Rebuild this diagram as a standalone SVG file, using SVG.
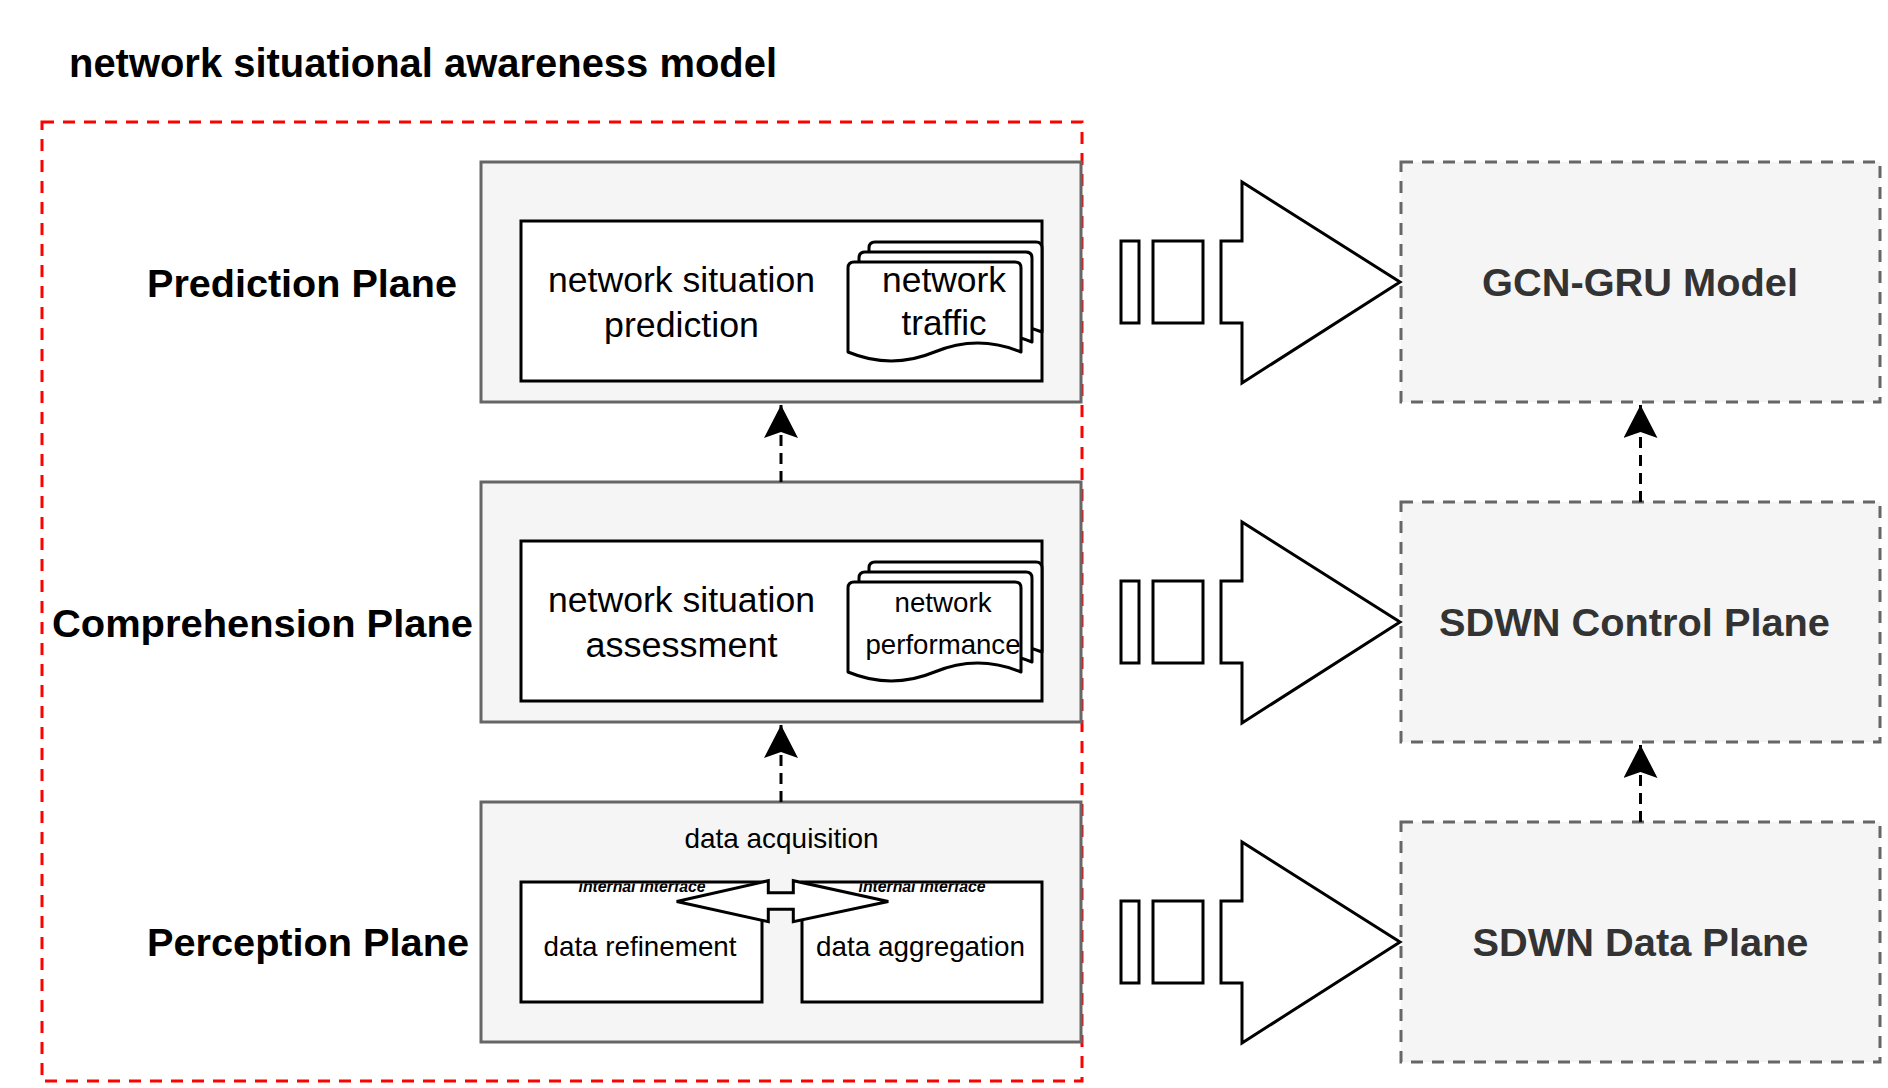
<svg xmlns="http://www.w3.org/2000/svg" width="1888" height="1088" viewBox="0 0 1888 1088">
<defs>
<style>
text{font-family:"Liberation Sans",Arial,Helvetica,sans-serif;fill:#000;}
.b{font-weight:bold;}
.lbl{font-weight:bold;font-size:39.5px;}
.ext-t{font-weight:bold;font-size:39.5px;fill:#333;}
.plane{fill:#f5f5f5;stroke:#666;stroke-width:3;}
.inner{fill:#fff;stroke:#000;stroke-width:3;}
.ext{fill:#f5f5f5;stroke:#666;stroke-width:3;stroke-dasharray:12 9;}
.frame{fill:none;stroke:#ff0000;stroke-width:3;stroke-dasharray:12 9;}
.doc{fill:#fff;stroke:#000;stroke-width:3;stroke-linejoin:round;}
.big{fill:#fff;stroke:#000;stroke-width:3;}
.conn{fill:none;stroke:#000;stroke-width:3;stroke-dasharray:11 7;}
.ii{font-size:16px;font-weight:bold;font-style:italic;}
</style>
<marker id="head" viewBox="0 0 34 34" refX="33" refY="17" markerWidth="34" markerHeight="34" markerUnits="userSpaceOnUse" orient="auto">
<path d="M0,0 L33,17 L0,34 L6,17 Z" fill="#000" stroke="none"/>
</marker>
<clipPath id="iiclip"><rect x="0" y="883.5" width="1888" height="30"/></clipPath>
<g id="docstack">
<path class="doc" d="M869,332 L869,248 Q869,242 875,242 L1036,242 Q1042,242 1042,248 L1042,332 Q998.75,314 955.5,332 Q912.25,350 869,332 Z"/>
<path class="doc" d="M859,342 L859,258 Q859,252 865,252 L1026,252 Q1032,252 1032,258 L1032,342 Q988.75,324 945.5,342 Q902.25,360 859,342 Z"/>
<path class="doc" d="M848,352 L848,268 Q848,262 854,262 L1015,262 Q1021,262 1021,268 L1021,352 Q977.75,334 934.5,352 Q891.25,370 848,352 Z"/>
</g>
<g id="bigarrow">
<rect class="big" x="1121" y="241" width="18" height="82"/>
<rect class="big" x="1153" y="241" width="50" height="82"/>
<path class="big" d="M1221,241 L1242,241 L1242,182 L1400,282 L1242,383 L1242,323 L1221,323 Z"/>
</g>
</defs>

<text id="title" class="b" x="69" y="77" font-size="40" textLength="708" lengthAdjust="spacingAndGlyphs">network situational awareness model</text>

<g id="awareness-frame">
<rect class="frame" x="42" y="122" width="1040" height="959"/>
</g>

<g id="label-prediction"><text class="lbl" x="147" y="297" textLength="310" lengthAdjust="spacingAndGlyphs">Prediction Plane</text></g>
<g id="label-comprehension"><text class="lbl" x="52" y="637" textLength="421" lengthAdjust="spacingAndGlyphs">Comprehension Plane</text></g>
<g id="label-perception"><text class="lbl" x="147" y="956" textLength="322" lengthAdjust="spacingAndGlyphs">Perception Plane</text></g>

<g id="prediction-plane">
<rect class="plane" x="481" y="162" width="600" height="240"/>
<rect class="inner" x="521" y="221" width="521" height="160"/>
<text x="681.5" y="292" font-size="35.5" text-anchor="middle" textLength="267" lengthAdjust="spacingAndGlyphs">network situation</text>
<text x="681.5" y="337" font-size="35.5" text-anchor="middle" textLength="155" lengthAdjust="spacingAndGlyphs">prediction</text>
<use href="#docstack"/>
<text x="944" y="292" font-size="35" text-anchor="middle" textLength="124" lengthAdjust="spacingAndGlyphs">network</text>
<text x="944" y="335" font-size="35" text-anchor="middle" textLength="85" lengthAdjust="spacingAndGlyphs">traffic</text>
</g>

<g id="comprehension-plane">
<rect class="plane" x="481" y="482" width="600" height="240"/>
<rect class="inner" x="521" y="541" width="521" height="160"/>
<text x="681.5" y="612" font-size="35.5" text-anchor="middle" textLength="267" lengthAdjust="spacingAndGlyphs">network situation</text>
<text x="681.5" y="657" font-size="35.5" text-anchor="middle" textLength="192" lengthAdjust="spacingAndGlyphs">assessment</text>
<use href="#docstack" transform="translate(0,320)"/>
<text x="943" y="612" font-size="28" text-anchor="middle" textLength="97" lengthAdjust="spacingAndGlyphs">network</text>
<text x="943" y="654" font-size="28" text-anchor="middle" textLength="155" lengthAdjust="spacingAndGlyphs">performance</text>
</g>

<g id="perception-plane">
<rect class="plane" x="481" y="802" width="600" height="240"/>
<text x="781.5" y="848" font-size="28" text-anchor="middle" textLength="194" lengthAdjust="spacingAndGlyphs">data acquisition</text>
<g id="data-refinement">
<rect class="inner" x="521" y="882" width="241" height="120"/>
<text x="640" y="956" font-size="28" text-anchor="middle" textLength="193" lengthAdjust="spacingAndGlyphs">data refinement</text>
<text class="ii" x="642" y="892" text-anchor="middle" clip-path="url(#iiclip)" textLength="127" lengthAdjust="spacingAndGlyphs">internal interface</text>
</g>
<g id="data-aggregation">
<rect class="inner" x="802" y="882" width="240" height="120"/>
<text x="920.5" y="956" font-size="28" text-anchor="middle" textLength="209" lengthAdjust="spacingAndGlyphs">data aggregation</text>
<text class="ii" x="922" y="892" text-anchor="middle" clip-path="url(#iiclip)" textLength="127" lengthAdjust="spacingAndGlyphs">internal interface</text>
</g>
<path id="internal-link" class="big" d="M676.7,901.5 L768.3,880.7 L768.3,892.7 L793.3,892.7 L793.3,880.7 L888.3,901.5 L793.3,921.7 L793.3,909.3 L768.3,909.3 L768.3,921.7 Z"/>
</g>

<g id="gcn-gru-model">
<rect class="ext" x="1401" y="162" width="479" height="240"/>
<text class="ext-t" x="1640" y="296" text-anchor="middle" textLength="316" lengthAdjust="spacingAndGlyphs">GCN-GRU Model</text>
</g>
<g id="sdwn-control-plane">
<rect class="ext" x="1401" y="502" width="479" height="240"/>
<text class="ext-t" x="1634.5" y="636" text-anchor="middle" textLength="391" lengthAdjust="spacingAndGlyphs">SDWN Control Plane</text>
</g>
<g id="sdwn-data-plane">
<rect class="ext" x="1401" y="822" width="479" height="240"/>
<text class="ext-t" x="1640.5" y="956" text-anchor="middle" textLength="336" lengthAdjust="spacingAndGlyphs">SDWN Data Plane</text>
</g>

<g id="connectors">
<path class="conn" d="M781,482 L781,405" marker-end="url(#head)"/>
<path class="conn" d="M781,802 L781,725" marker-end="url(#head)"/>
<path class="conn" d="M1640.5,502 L1640.5,405" marker-end="url(#head)"/>
<path class="conn" d="M1640.5,822 L1640.5,745" marker-end="url(#head)"/>
<use href="#bigarrow"/>
<use href="#bigarrow" transform="translate(0,340)"/>
<use href="#bigarrow" transform="translate(0,660)"/>
</g>
</svg>
